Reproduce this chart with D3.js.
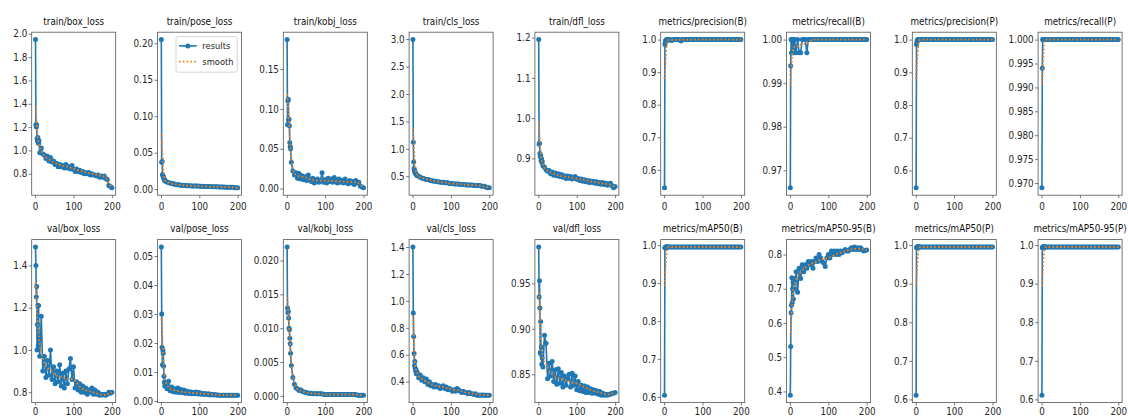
<!DOCTYPE html>
<html lang="en">
<head>
    <meta charset="UTF-8">
    <title>results</title>
    <style>
        body { margin: 0; background: #fff; }
        svg text { font-family: "DejaVu Sans", sans-serif; }
    </style>
</head>
<body>
<div class="graph"></div>
<script src="https://d3js.org/d3.v7.min.js"></script>
<script>
    var w = 1128, h = 418;

    // epochs where the results are plotted
    var epochs = [1,2,3,4,5,6,7,8,9,10,
        12,16,20,24,28,32,36,40,44,48,
        52,56,60,64,68,72,76,80,84,88,
        92,96,100,104,108,112,116,120,124,128,
        132,136,140,144,148,152,156,160,164,168,
        172,176,180,184,188,192,196,200];
    // epochs where the smooth curve is read
    var smoothEpochs = [1,2,3,4,5,6,8,10,13,16,20,25,30,40,50,60,80,100,120,140,160,180,188,194,200];

    var titles = ["train/box_loss", "train/pose_loss", "train/kobj_loss", "train/cls_loss", "train/dfl_loss",
        "metrics/precision(B)", "metrics/recall(B)", "metrics/precision(P)", "metrics/recall(P)",
        "val/box_loss", "val/pose_loss", "val/kobj_loss", "val/cls_loss", "val/dfl_loss",
        "metrics/mAP50(B)", "metrics/mAP50-95(B)", "metrics/mAP50(P)", "metrics/mAP50-95(P)"];
    var legendLabels = ["results", "smooth"];
    var xTicks = [0, 100, 200];

    var trainBoxLoss = [1.95,1.22,1.20,1.22,1.10,1.08,1.11,1.09,1.06,1.08,
        0.98,1.02,0.97,0.96,0.93,0.95,0.91,0.94,0.90,0.91,
        0.88,0.89,0.86,0.88,0.86,0.87,0.85,0.88,0.85,0.86,
        0.84,0.87,0.84,0.82,0.84,0.82,0.83,0.81,0.82,0.80,
        0.81,0.80,0.81,0.79,0.80,0.79,0.79,0.78,0.79,0.77,
        0.78,0.77,0.78,0.76,0.75,0.70,0.69,0.68];
    var trainBoxSmooth = [1.38,1.345,1.30,1.26,1.19,1.14,1.08,1.05,1.02,0.995,0.97,0.95,0.935,0.915,0.895,0.88,0.865,0.845,0.823,0.806,0.792,0.775,0.748,0.708,0.688];
    var trainBoxTicks = [0.8, 1.0, 1.2, 1.4, 1.6, 1.8, 2.0];

    var trainPoseLoss = [0.205,0.037,0.038,0.020,0.019,0.017,0.016,0.014,0.013,0.012,
        0.011,0.010,0.009,0.008,0.008,0.007,0.007,0.006,0.006,0.006,
        0.0052,0.0055,0.0050,0.0050,0.0048,0.0047,0.0046,0.0045,0.0044,0.0043,
        0.0042,0.0042,0.0040,0.0040,0.0039,0.0038,0.0037,0.0037,0.0036,0.0035,
        0.0034,0.0034,0.0033,0.0032,0.0032,0.0031,0.0030,0.0030,0.0029,0.0028,
        0.0028,0.0027,0.0027,0.0026,0.0025,0.0021,0.0020,0.0019];
    var trainPoseSmooth = [0.075,0.069,0.060,0.048,0.037,0.028,0.018,0.013,0.011,0.010,0.009,0.008,0.0075,0.0065,0.0058,0.0052,0.0046,0.0041,0.0037,0.0033,0.0030,0.0027,0.0025,0.0021,0.0019];
    var trainPoseTicks = [0, 0.05, 0.10, 0.15, 0.20];

    var trainKobjLoss = [0.187,0.080,0.110,0.112,0.086,0.087,0.079,0.058,0.053,0.050,
        0.033,0.022,0.017,0.020,0.013,0.019,0.012,0.016,0.011,0.015,
        0.010,0.017,0.012,0.009,0.013,0.007,0.010,0.012,0.008,0.010,
        0.020,0.008,0.011,0.007,0.013,0.009,0.012,0.008,0.014,0.010,
        0.007,0.012,0.008,0.010,0.007,0.012,0.008,0.006,0.010,0.007,
        0.009,0.005,0.010,0.007,0.008,0.003,0.002,0.001];
    var trainKobjSmooth = [0.118,0.114,0.108,0.100,0.091,0.082,0.064,0.050,0.035,0.026,0.019,0.017,0.016,0.015,0.014,0.012,0.010,0.010,0.0095,0.009,0.0085,0.008,0.0065,0.004,0.0025];
    var trainKobjTicks = [0, 0.05, 0.10, 0.15];

    var trainClsLoss = [2.99,1.12,0.76,0.64,0.61,0.58,0.57,0.55,0.54,0.53,
        0.51,0.50,0.48,0.47,0.46,0.45,0.44,0.44,0.43,0.42,
        0.42,0.41,0.41,0.40,0.40,0.39,0.39,0.39,0.38,0.38,
        0.38,0.37,0.37,0.37,0.36,0.36,0.36,0.36,0.35,0.35,
        0.35,0.35,0.34,0.34,0.34,0.34,0.34,0.33,0.33,0.33,
        0.33,0.33,0.32,0.32,0.32,0.30,0.29,0.29];
    var trainClsSmooth = [1.37,1.29,1.16,1.01,0.84,0.72,0.59,0.55,0.52,0.50,0.48,0.47,0.455,0.44,0.425,0.41,0.39,0.37,0.36,0.345,0.335,0.325,0.315,0.30,0.295];
    var trainClsTicks = [0.5, 1.0, 1.5, 2.0, 2.5, 3.0];

    var trainDflLoss = [1.195,0.935,0.938,0.912,0.905,0.908,0.895,0.900,0.890,0.893,
        0.882,0.878,0.872,0.868,0.870,0.862,0.866,0.858,0.864,0.857,
        0.862,0.855,0.860,0.853,0.857,0.850,0.856,0.851,0.855,0.849,
        0.852,0.855,0.848,0.850,0.845,0.849,0.843,0.847,0.842,0.845,
        0.840,0.844,0.840,0.843,0.838,0.842,0.837,0.840,0.836,0.840,
        0.835,0.838,0.833,0.837,0.838,0.832,0.827,0.830];
    var trainDflSmooth = [0.99,0.975,0.965,0.949,0.930,0.915,0.899,0.890,0.883,0.877,0.872,0.869,0.866,0.862,0.859,0.856,0.853,0.850,0.846,0.842,0.839,0.836,0.835,0.832,0.830];
    var trainDflTicks = [0.9, 1.0, 1.1, 1.2];

    var precisionB = [0.545,0.985,0.990,0.997,0.998,0.999,1.0,0.999,1.0,1.0,
        0.998,1.0,0.997,1.0,1.0,1.0,1.0,1.0,0.996,1.0,
        1.0,1.0,1.0,1.0,1.0,1.0,1.0,1.0,1.0,1.0,
        1.0,1.0,1.0,1.0,1.0,1.0,1.0,1.0,1.0,1.0,
        1.0,1.0,1.0,1.0,1.0,1.0,1.0,1.0,1.0,1.0,
        1.0,1.0,1.0,1.0,1.0,1.0,1.0,1.0];
    var precisionBSmooth = [0.881,0.894,0.913,0.936,0.957,0.974,0.993,0.998,0.999,0.999,0.999,0.999,0.999,0.999,1.0,1.0,1.0,1.0,1.0,1.0,1.0,1.0,1.0,1.0,1.0];
    var precisionBTicks = [0.6, 0.7, 0.8, 0.9, 1.0];

    var recallB = [0.966,0.994,1.0,0.997,1.0,0.997,1.0,0.997,1.0,0.997,
        1.0,0.997,1.0,0.997,0.997,1.0,1.0,1.0,0.997,1.0,
        1.0,1.0,1.0,1.0,1.0,1.0,1.0,1.0,1.0,1.0,
        1.0,1.0,1.0,1.0,1.0,1.0,1.0,1.0,1.0,1.0,
        1.0,1.0,1.0,1.0,1.0,1.0,1.0,1.0,1.0,1.0,
        1.0,1.0,1.0,1.0,1.0,1.0,1.0,1.0];
    var recallBSmooth = [0.9895,0.9905,0.9925,0.994,0.9955,0.9965,0.9975,0.998,0.9985,0.9985,0.9985,0.9985,0.999,0.999,0.9995,1.0,1.0,1.0,1.0,1.0,1.0,1.0,1.0,1.0,1.0];
    var recallBTicks = [0.97, 0.98, 0.99, 1.00];

    var precisionP = [0.547,0.985,0.992,0.998,0.999,1.0,1.0,1.0,1.0,1.0,
        1.0,1.0,1.0,1.0,1.0,1.0,1.0,1.0,1.0,1.0,
        1.0,1.0,1.0,1.0,1.0,1.0,1.0,1.0,1.0,1.0,
        1.0,1.0,1.0,1.0,1.0,1.0,1.0,1.0,1.0,1.0,
        1.0,1.0,1.0,1.0,1.0,1.0,1.0,1.0,1.0,1.0,
        1.0,1.0,1.0,1.0,1.0,1.0,1.0,1.0];
    var precisionPSmooth = [0.881,0.894,0.913,0.936,0.957,0.974,0.993,0.998,1.0,1.0,1.0,1.0,1.0,1.0,1.0,1.0,1.0,1.0,1.0,1.0,1.0,1.0,1.0,1.0,1.0];
    var precisionPTicks = [0.6, 0.7, 0.8, 0.9, 1.0];

    var recallP = [0.969,0.994,1.0,1.0,1.0,1.0,1.0,1.0,1.0,1.0,
        1.0,1.0,1.0,1.0,1.0,1.0,1.0,1.0,1.0,1.0,
        1.0,1.0,1.0,1.0,1.0,1.0,1.0,1.0,1.0,1.0,
        1.0,1.0,1.0,1.0,1.0,1.0,1.0,1.0,1.0,1.0,
        1.0,1.0,1.0,1.0,1.0,1.0,1.0,1.0,1.0,1.0,
        1.0,1.0,1.0,1.0,1.0,1.0,1.0,1.0];
    var recallPSmooth = [0.9906,0.992,0.9934,0.9952,0.9968,0.998,0.9995,1.0,1.0,1.0,1.0,1.0,1.0,1.0,1.0,1.0,1.0,1.0,1.0,1.0,1.0,1.0,1.0,1.0,1.0];
    var recallPTicks = [0.970, 0.975, 0.980, 0.985, 0.990, 0.995, 1.000];

    var valBoxLoss = [1.487,1.40,1.25,1.30,1.00,1.12,1.21,1.02,1.21,1.06,
        0.97,1.16,0.90,0.97,0.87,0.95,0.88,1.00,0.86,0.92,
        0.84,0.90,0.85,0.93,0.83,0.89,0.82,0.90,0.84,0.91,
        0.96,0.86,0.92,0.82,0.85,0.81,0.84,0.80,0.83,0.80,
        0.82,0.79,0.81,0.80,0.82,0.79,0.81,0.79,0.80,0.786,
        0.79,0.787,0.79,0.786,0.79,0.80,0.795,0.80];
    var valBoxSmooth = [1.32,1.29,1.25,1.21,1.17,1.14,1.10,1.06,1.02,0.99,0.96,0.935,0.92,0.905,0.885,0.875,0.865,0.86,0.82,0.805,0.795,0.787,0.789,0.795,0.80];
    var valBoxTicks = [0.8, 1.0, 1.2, 1.4];

    var valPoseLoss = [0.0531,0.030,0.0185,0.0125,0.0175,0.0165,0.012,0.0085,0.0065,0.0052,
        0.0062,0.0042,0.0068,0.0035,0.0048,0.0032,0.0042,0.0030,0.0045,0.0029,
        0.0040,0.0028,0.0038,0.0027,0.0034,0.0026,0.0032,0.0025,0.0030,0.0025,
        0.0031,0.0024,0.0029,0.0023,0.0027,0.0022,0.0026,0.0022,0.0025,0.0021,
        0.0023,0.0021,0.0022,0.0021,0.0021,0.0020,0.0020,0.0020,0.0020,0.0020,
        0.0020,0.0020,0.0020,0.0020,0.0020,0.0020,0.0020,0.0020];
    var valPoseSmooth = [0.0287,0.0272,0.0246,0.021,0.018,0.015,0.011,0.0085,0.0065,0.0055,0.0048,0.0042,0.0039,0.0036,0.0033,0.0031,0.0028,0.0026,0.0024,0.0022,0.0021,0.0020,0.0020,0.0020,0.0020];
    var valPoseTicks = [0, 0.01, 0.02, 0.03, 0.04, 0.05];

    var valKobjLoss = [0.0220,0.0130,0.0123,0.0125,0.0115,0.0100,0.0098,0.0085,0.0077,0.0063,
        0.0045,0.0027,0.0017,0.0012,0.0010,0.0008,0.0009,0.0007,0.0006,0.0005,
        0.0005,0.0004,0.0004,0.0004,0.0003,0.0003,0.0003,0.0003,0.0003,0.0003,
        0.0003,0.0002,0.0002,0.0002,0.0002,0.0002,0.0002,0.0002,0.0002,0.0002,
        0.0002,0.0002,0.0002,0.0002,0.0002,0.0002,0.0002,0.0002,0.0002,0.0002,
        0.0002,0.0002,0.0002,0.0001,0.0001,0.0001,0.0001,0.0001];
    var valKobjSmooth = [0.0145,0.0142,0.0135,0.0125,0.0114,0.0103,0.0083,0.0064,0.0043,0.0030,0.0019,0.0012,0.0009,0.0007,0.0005,0.0004,0.0003,0.0002,0.0002,0.0002,0.0002,0.0002,0.0001,0.0001,0.0001];
    var valKobjTicks = [0, 0.005, 0.010, 0.015, 0.020];

    var valClsLoss = [1.40,0.91,0.735,0.61,0.52,0.55,0.50,0.48,0.49,0.46,
        0.47,0.43,0.45,0.41,0.43,0.40,0.42,0.38,0.40,0.37,
        0.38,0.36,0.38,0.36,0.37,0.35,0.36,0.37,0.35,0.36,
        0.34,0.35,0.34,0.33,0.34,0.33,0.35,0.34,0.33,0.32,
        0.33,0.32,0.32,0.31,0.32,0.31,0.31,0.305,0.31,0.30,
        0.30,0.302,0.30,0.302,0.30,0.30,0.30,0.30];
    var valClsSmooth = [0.89,0.85,0.77,0.68,0.60,0.55,0.50,0.475,0.46,0.445,0.43,0.42,0.41,0.395,0.38,0.37,0.36,0.345,0.335,0.32,0.31,0.302,0.30,0.30,0.30];
    var valClsTicks = [0.4, 0.6, 0.8, 1.0, 1.2, 1.4];

    var valDflLoss = [0.990,0.935,0.953,0.923,0.874,0.908,0.872,0.880,0.861,0.868,
        0.858,0.893,0.884,0.845,0.862,0.848,0.864,0.842,0.855,0.839,
        0.856,0.840,0.852,0.836,0.848,0.838,0.845,0.850,0.836,0.851,
        0.838,0.848,0.833,0.842,0.832,0.838,0.831,0.837,0.830,0.836,
        0.830,0.834,0.829,0.833,0.829,0.832,0.828,0.831,0.827,0.829,
        0.827,0.828,0.827,0.828,0.828,0.829,0.829,0.830];
    var valDflSmooth = [0.94,0.935,0.925,0.912,0.90,0.891,0.880,0.872,0.866,0.864,0.862,0.857,0.853,0.849,0.846,0.845,0.842,0.840,0.836,0.832,0.830,0.828,0.828,0.829,0.829];
    var valDflTicks = [0.85, 0.90, 0.95];

    var mAP50B = [0.605,0.993,0.994,0.995,0.995,0.995,0.995,0.995,0.995,0.995,
        0.995,0.995,0.995,0.995,0.995,0.995,0.995,0.995,0.995,0.995,
        0.995,0.995,0.995,0.995,0.995,0.995,0.995,0.995,0.995,0.995,
        0.995,0.995,0.995,0.995,0.995,0.995,0.995,0.995,0.995,0.995,
        0.995,0.995,0.995,0.995,0.995,0.995,0.995,0.995,0.995,0.995,
        0.995,0.995,0.995,0.995,0.995,0.995,0.995,0.995];
    var mAP50BSmooth = [0.894,0.904,0.922,0.942,0.961,0.975,0.990,0.994,0.995,0.995,0.995,0.995,0.995,0.995,0.995,0.995,0.995,0.995,0.995,0.995,0.995,0.995,0.995,0.995,0.995];
    var mAP50BTicks = [0.6, 0.7, 0.8, 0.9, 1.0];

    var mAP5095B = [0.389,0.531,0.630,0.652,0.732,0.660,0.700,0.720,0.670,0.730,
        0.700,0.750,0.690,0.760,0.730,0.770,0.750,0.770,0.760,0.780,
        0.770,0.780,0.760,0.780,0.790,0.780,0.800,0.790,0.780,0.775,
        0.765,0.790,0.800,0.790,0.810,0.800,0.810,0.800,0.810,0.800,
        0.810,0.805,0.810,0.815,0.810,0.810,0.815,0.820,0.815,0.822,
        0.815,0.820,0.815,0.820,0.815,0.810,0.812,0.813];
    var mAP5095BSmooth = [0.561,0.570,0.592,0.618,0.643,0.662,0.690,0.705,0.715,0.725,0.735,0.745,0.752,0.762,0.770,0.775,0.785,0.790,0.800,0.808,0.815,0.817,0.816,0.814,0.813];
    var mAP5095BTicks = [0.4, 0.5, 0.6, 0.7, 0.8];

    var mAP50P = [0.611,0.993,0.995,0.995,0.995,0.995,0.995,0.995,0.995,0.995,
        0.995,0.995,0.995,0.995,0.995,0.995,0.995,0.995,0.995,0.995,
        0.995,0.995,0.995,0.995,0.995,0.995,0.995,0.995,0.995,0.995,
        0.995,0.995,0.995,0.995,0.995,0.995,0.995,0.995,0.995,0.995,
        0.995,0.995,0.995,0.995,0.995,0.995,0.995,0.995,0.995,0.995,
        0.995,0.995,0.995,0.995,0.995,0.995,0.995,0.995];
    var mAP50PSmooth = [0.895,0.905,0.923,0.943,0.961,0.975,0.990,0.994,0.995,0.995,0.995,0.995,0.995,0.995,0.995,0.995,0.995,0.995,0.995,0.995,0.995,0.995,0.995,0.995,0.995];
    var mAP50PTicks = [0.6, 0.7, 0.8, 0.9, 1.0];

    var mAP5095P = [0.611,0.993,0.995,0.995,0.995,0.995,0.995,0.995,0.995,0.995,
        0.995,0.995,0.995,0.995,0.995,0.995,0.995,0.995,0.995,0.995,
        0.995,0.995,0.995,0.995,0.995,0.995,0.995,0.995,0.995,0.995,
        0.995,0.995,0.995,0.995,0.995,0.995,0.995,0.995,0.995,0.995,
        0.995,0.995,0.995,0.995,0.995,0.995,0.995,0.995,0.995,0.995,
        0.995,0.995,0.995,0.995,0.995,0.995,0.995,0.995];
    var mAP5095PSmooth = [0.895,0.905,0.923,0.943,0.961,0.975,0.990,0.994,0.995,0.995,0.995,0.995,0.995,0.995,0.995,0.995,0.995,0.995,0.995,0.995,0.995,0.995,0.995,0.995,0.995];
    var mAP5095PTicks = [0.6, 0.7, 0.8, 0.9, 1.0];

    var panels = [
        {values: trainBoxLoss, smooth: trainBoxSmooth, ticks: trainBoxTicks, fmt: ".1f"},
        {values: trainPoseLoss, smooth: trainPoseSmooth, ticks: trainPoseTicks, fmt: ".2f", legend: true},
        {values: trainKobjLoss, smooth: trainKobjSmooth, ticks: trainKobjTicks, fmt: ".2f"},
        {values: trainClsLoss, smooth: trainClsSmooth, ticks: trainClsTicks, fmt: ".1f"},
        {values: trainDflLoss, smooth: trainDflSmooth, ticks: trainDflTicks, fmt: ".1f"},
        {values: precisionB, smooth: precisionBSmooth, ticks: precisionBTicks, fmt: ".1f"},
        {values: recallB, smooth: recallBSmooth, ticks: recallBTicks, fmt: ".2f"},
        {values: precisionP, smooth: precisionPSmooth, ticks: precisionPTicks, fmt: ".1f"},
        {values: recallP, smooth: recallPSmooth, ticks: recallPTicks, fmt: ".3f"},
        {values: valBoxLoss, smooth: valBoxSmooth, ticks: valBoxTicks, fmt: ".1f"},
        {values: valPoseLoss, smooth: valPoseSmooth, ticks: valPoseTicks, fmt: ".2f"},
        {values: valKobjLoss, smooth: valKobjSmooth, ticks: valKobjTicks, fmt: ".3f"},
        {values: valClsLoss, smooth: valClsSmooth, ticks: valClsTicks, fmt: ".1f"},
        {values: valDflLoss, smooth: valDflSmooth, ticks: valDflTicks, fmt: ".2f"},
        {values: mAP50B, smooth: mAP50BSmooth, ticks: mAP50BTicks, fmt: ".1f"},
        {values: mAP5095B, smooth: mAP5095BSmooth, ticks: mAP5095BTicks, fmt: ".1f"},
        {values: mAP50P, smooth: mAP50PSmooth, ticks: mAP50PTicks, fmt: ".1f"},
        {values: mAP5095P, smooth: mAP5095PSmooth, ticks: mAP5095PTicks, fmt: ".1f"}
    ];

    // layout of the 2 x 9 grid
    var left0 = 31.7, colStep = 125.8, boxW = 84, boxH = 163;
    var rowTop = [32.2, 239.6];
    var xPad = [5, 2.5]; // bottom row labels pulled up a little so they stay inside the frame
    var squeeze = "scale(0.88,1)";
    var blue = "#1f77b4", orange = "#ff7f0e";

    var svg = d3.select(".graph")
        .append("svg")
        .attr("width", w)
        .attr("height", h)
        .style("display", "block");

    var ex = d3.extent(epochs), exPad = (ex[1] - ex[0]) * 0.05;
    var x = d3.scaleLinear().domain([ex[0] - exPad, ex[1] + exPad]).range([0, boxW]);

    function styleAxis(sel) {
        sel.select(".domain").remove();
        sel.selectAll("line").attr("stroke", "#555").attr("stroke-width", 0.8);
        sel.selectAll("text")
            .attr("font-size", 10)
            .attr("font-family", "DejaVu Sans, sans-serif")
            .attr("fill", "#262626")
            .attr("transform", squeeze);
    }

    panels.forEach(function(p, i) {
        var col = i % 9, row = Math.floor(i / 9);
        var g = svg.append("g")
            .attr("transform", "translate(" + (left0 + col * colStep) + "," + rowTop[row] + ")");

        var all = p.values.concat(p.smooth);
        var lo = d3.min(all), hi = d3.max(all), pad = (hi - lo) * 0.05;
        var y = d3.scaleLinear().domain([lo - pad, hi + pad]).range([boxH, 0]);

        var resultLine = d3.line()
            .x(function(d, j) { return x(epochs[j]); })
            .y(function(d) { return y(d); });
        var smoothLine = d3.line()
            .curve(d3.curveMonotoneX)
            .x(function(d, j) { return x(smoothEpochs[j]); })
            .y(function(d) { return y(d); });

        g.append("path")
            .attr("d", resultLine(p.values))
            .attr("fill", "none")
            .attr("stroke", blue)
            .attr("stroke-width", 1.6);
        g.selectAll("circle.pt").data(p.values).enter()
            .append("circle")
            .attr("class", "pt")
            .attr("cx", function(d, j) { return x(epochs[j]); })
            .attr("cy", function(d) { return y(d); })
            .attr("r", 2.5)
            .attr("fill", blue);
        g.append("path")
            .attr("d", smoothLine(p.smooth))
            .attr("fill", "none")
            .attr("stroke", orange)
            .attr("stroke-width", 1.8)
            .attr("stroke-dasharray", "1.6,2.2");

        var yTicks = p.ticks.filter(function(t) { return t >= y.domain()[0] && t <= y.domain()[1]; });
        g.append("g")
            .call(d3.axisLeft(y).tickValues(yTicks).tickFormat(d3.format(p.fmt)).tickSize(3).tickPadding(2))
            .call(styleAxis);
        g.append("g")
            .attr("transform", "translate(0," + boxH + ")")
            .call(d3.axisBottom(x).tickValues(xTicks).tickFormat(d3.format("d")).tickSize(3).tickPadding(xPad[row]))
            .call(styleAxis);

        g.append("rect")
            .attr("width", boxW)
            .attr("height", boxH)
            .attr("fill", "none")
            .attr("stroke", "#555")
            .attr("stroke-width", 0.8);

        g.append("text")
            .attr("transform", "translate(" + (boxW / 2) + ",-7.3) " + squeeze)
            .attr("text-anchor", "middle")
            .attr("font-size", 10)
            .attr("fill", "#111")
            .text(titles[i]);

        if (p.legend) {
            var lg = g.append("g").attr("transform", "translate(" + (boxW - 65.5) + ",4.4)");
            lg.append("rect")
                .attr("width", 61.3)
                .attr("height", 35.6)
                .attr("rx", 2)
                .attr("fill", "#fff")
                .attr("fill-opacity", 0.8)
                .attr("stroke", "#ccc")
                .attr("stroke-width", 0.8);
            legendLabels.forEach(function(label, k) {
                var ly = 9.3 + k * 15.7;
                lg.append("line")
                    .attr("x1", 3).attr("x2", 20.7)
                    .attr("y1", ly).attr("y2", ly)
                    .attr("stroke", k === 0 ? blue : orange)
                    .attr("stroke-width", k === 0 ? 1.6 : 1.8)
                    .attr("stroke-dasharray", k === 0 ? null : "1.6,2.2");
                if (k === 0) {
                    lg.append("circle").attr("cx", 11.8).attr("cy", ly).attr("r", 2.5).attr("fill", blue);
                }
                lg.append("text")
                    .attr("transform", "translate(26.3," + (ly + 3.3) + ") " + squeeze)
                    .attr("font-size", 9.5)
                    .attr("fill", "#262626")
                    .text(label);
            });
        }
    });
</script>
</body>
</html>
